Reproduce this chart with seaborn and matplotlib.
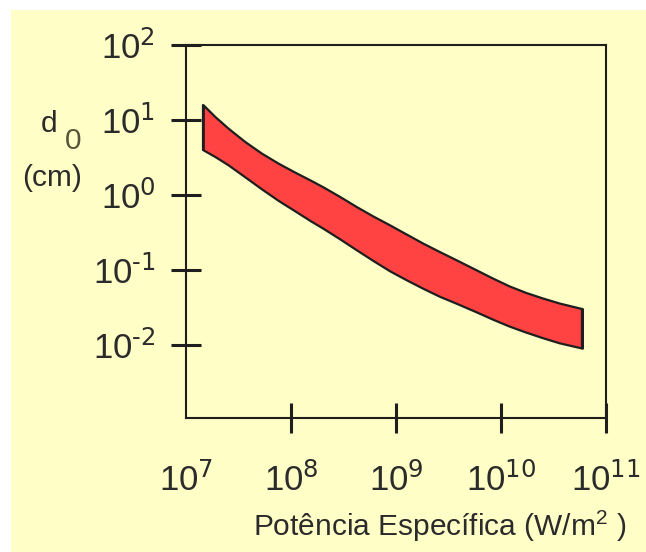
"""Thickness band d0 versus specific power, log-log."""

import matplotlib

matplotlib.use("Agg")

import matplotlib.pyplot as plt
import numpy as np
import seaborn as sns
from matplotlib.patches import Rectangle
from matplotlib.ticker import FuncFormatter

# band edges (W/m2 and cm)
power_w_m2 = [
    1.459e7, 1.888e7, 2.523e7, 3.639e7, 5.236e7, 7.534e7, 1.086e8, 1.563e8,
    2.016e8, 2.905e8, 4.187e8, 5.980e8, 8.675e8, 1.250e9, 1.797e9, 2.590e9,
    3.733e9, 5.781e9, 8.318e9, 1.197e10, 1.726e10, 2.483e10, 3.573e10, 5.957e10,
]
d0_upper_cm = [
    15.85, 11.07, 7.74, 5.14, 3.60, 2.65, 2.01, 1.547,
    1.278, 0.952, 0.698, 0.525, 0.398, 0.300, 0.227, 0.175,
    0.136, 0.100, 0.0774, 0.0608, 0.0497, 0.0420, 0.0360, 0.0302,
]
d0_lower_cm = [
    3.98, 3.24, 2.51, 1.738, 1.202, 0.845, 0.612, 0.443,
    0.358, 0.259, 0.185, 0.134, 0.0970, 0.0736, 0.0567, 0.0443,
    0.0358, 0.0275, 0.0219, 0.0177, 0.0147, 0.0124, 0.0106, 0.00898,
]

x_ticks = [1e7, 1e8, 1e9, 1e10, 1e11]
y_ticks = [1e-2, 1e-1, 1e0, 1e1, 1e2]

YELLOW = "#FFFEC6"
RED = "#FF4242"
INK = "#1E1E1E"
TEXT = "#2B2B2B"

sns.set_theme(style="ticks")
plt.rcParams.update(
    {
        "font.family": ["Liberation Sans", "DejaVu Sans"],
        "mathtext.default": "regular",
        "axes.edgecolor": INK,
        "axes.linewidth": 1.5,
        "text.color": TEXT,
        "xtick.color": INK,
        "ytick.color": INK,
        "xtick.labelcolor": TEXT,
        "ytick.labelcolor": TEXT,
    }
)


def power_label(value, _pos):
    # plain hyphen in the exponent, like the original figure
    exponent = int(round(np.log10(value)))
    return rf"$10^{{\text{{{exponent}}}}}$"


fig = plt.figure(figsize=(6.46, 5.52), dpi=100, facecolor="white")
fig.patches.append(
    Rectangle((11 / 646, 0), 1, 1 - 10 / 552, transform=fig.transFigure,
              facecolor=YELLOW, edgecolor="none", zorder=-5)
)
ax = fig.add_axes([186 / 646, 1 - 418 / 552, 420 / 646, 373 / 552])
ax.set_facecolor(YELLOW)

ax.fill_between(power_w_m2, d0_lower_cm, d0_upper_cm,
                facecolor=RED, edgecolor=INK, linewidth=1.6, zorder=2)
# close the two ends of the band
ax.plot([power_w_m2[0]] * 2, [d0_lower_cm[0], d0_upper_cm[0]], color=INK, lw=1.6, zorder=3)
ax.plot([power_w_m2[-1]] * 2, [d0_lower_cm[-1], d0_upper_cm[-1]], color=INK, lw=1.6, zorder=3)

ax.set_xscale("log")
ax.set_yscale("log")
ax.set_xlim(1e7, 1e11)
ax.set_ylim(1.05e-3, 1e2)
ax.set_xticks(x_ticks)
ax.set_yticks(y_ticks)
ax.minorticks_off()
ax.xaxis.set_major_formatter(FuncFormatter(power_label))
ax.yaxis.set_major_formatter(FuncFormatter(power_label))
ax.tick_params(axis="both", direction="inout", length=22, width=2.2, labelsize=25)
ax.tick_params(axis="x", pad=21)
ax.tick_params(axis="y", pad=11)
ax.xaxis.get_major_ticks()[0].tick1line.set_visible(False)
for side in ["top", "right", "left", "bottom"]:
    ax.spines[side].set_visible(True)

fig.text(49 / 646, 1 - 124 / 552, "d", fontsize=21.5, ha="center", va="center")
fig.text(73 / 646, 1 - 141 / 552, "0", fontsize=21.5, ha="center", va="center", color="#55553A")
fig.text(52 / 646, 1 - 178 / 552, "(cm)", fontsize=21.5, ha="center", va="center")
fig.text(440 / 646, 1 - 526 / 552, "Potência Específica (W/m$^{2}$ )",
         fontsize=21.5, ha="center", va="center")

fig.savefig("out.png", dpi=100, facecolor="white")
